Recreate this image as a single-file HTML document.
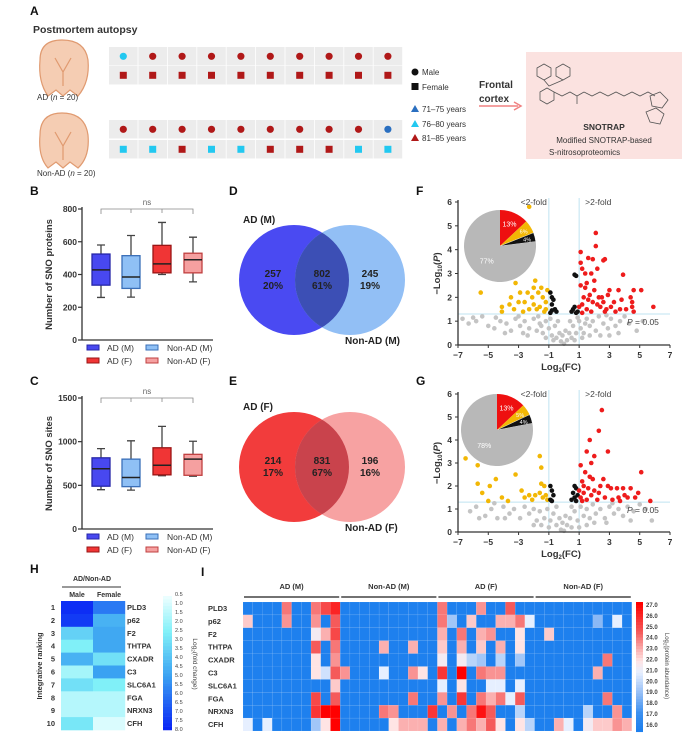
<!DOCTYPE html>
<html><head><meta charset="utf-8">
<style>
html,body{margin:0;padding:0;background:#fff;}
svg{display:block;font-family:"Liberation Sans",Arial,sans-serif;}
.pl{font-size:12px;font-weight:bold;fill:#111;}
.tk{font-size:8.5px;font-weight:bold;fill:#333;}
.sm{font-size:8px;fill:#333;}
</style></head>
<body>
<svg id="fig" width="695" height="741" viewBox="0 0 695 741" xmlns="http://www.w3.org/2000/svg">
<!-- Panel A static -->
<g>
<text x="30" y="15" class="pl">A</text>
<text x="33" y="33" style="font-size:10.5px;font-weight:bold;fill:#333">Postmortem autopsy</text>
<g fill="#f5cdb3" stroke="#e09a70" stroke-width="1.2">
<path d="M40 60 Q40 40 62 40 Q85 40 88 60 Q90 82 78 96 L70 90 L63 96 L56 90 L48 96 Q38 82 40 60Z"/>
<path d="M55 58 L63 72 L71 58 M63 72 L63 86" fill="none"/>
</g>
<text x="37" y="100" class="sm">AD (<tspan font-style="italic">n</tspan> = 20)</text>
<g fill="#f5cdb3" stroke="#e09a70" stroke-width="1.2">
<path d="M40 135 Q40 113 62 113 Q85 113 88 135 Q90 157 78 168 L70 162 L63 168 L56 162 L48 168 Q38 157 40 135Z"/>
<path d="M55 132 L63 146 L71 132 M63 146 L63 160" fill="none"/>
</g>
<text x="37" y="176" class="sm">Non-AD (<tspan font-style="italic">n</tspan> = 20)</text>
<g id="samples"></g>
<g>
<circle cx="415" cy="72" r="3.5" fill="#111"/><text x="422" y="75" class="sm">Male</text>
<rect x="411.5" y="83" width="7" height="7" fill="#111"/><text x="422" y="90" class="sm">Female</text>
<path d="M411 112 L415 105 L419 112Z" fill="#2a6fc0"/><text x="422" y="112" class="sm">71–75 years</text>
<path d="M411 127 L415 120 L419 127Z" fill="#22c8f0"/><text x="422" y="127" class="sm">76–80 years</text>
<path d="M411 141 L415 134 L419 141Z" fill="#b01818"/><text x="422" y="141" class="sm">81–85 years</text>
</g>
<text x="479" y="88" style="font-size:10px;font-weight:bold;fill:#333"><tspan x="479">Frontal</tspan><tspan x="479" dy="14">cortex</tspan></text>
<g><line x1="479" y1="106" x2="518" y2="106" stroke="#f08080" stroke-width="1.5"/><path d="M514 102 L521 106 L514 110" fill="none" stroke="#f08080" stroke-width="1.5"/></g>
<rect x="526" y="52" width="156" height="107" fill="#fbe2e0"/>
<g stroke="#555" stroke-width="0.8" fill="none">
<polygon points="537,68 544,64 551,68 551,76 544,80 537,76"/>
<polygon points="556,68 563,64 570,68 570,76 563,80 556,76"/>
<polygon points="540,92 547,88 554,92 554,100 547,104 540,100"/>
<path d="M544 80 L549 86 L563 80 M554 92 L562 96 L570 92 L577 96 L584 92 M577 96 L577 104 M584 92 L592 96 L600 92 L608 96 L616 92 L624 96 L632 92 L640 96 L648 92 L655 96"/>
<polygon points="650,96 660,92 668,100 662,108 652,106"/>
<polygon points="646,112 656,108 664,114 660,124 650,122"/>
</g>
<text x="604" y="130" text-anchor="middle" style="font-size:8.5px;font-weight:bold;fill:#333">SNOTRAP</text>
<text x="604" y="143" text-anchor="middle" class="sm">Modified SNOTRAP-based</text>
<text x="549" y="155" class="sm">S-nitrosoproteomics</text>
</g>

<text x="30" y="195" class="pl">B</text>
<text x="30" y="385" class="pl">C</text>
<text x="229" y="195" class="pl">D</text>
<text x="229" y="385" class="pl">E</text>
<text x="416" y="195" class="pl">F</text>
<text x="416" y="385" class="pl">G</text>
<text x="30" y="573" class="pl">H</text>
<text x="201" y="576" class="pl">I</text>

<g id="boxB"></g>
<g id="boxC"></g>
<g id="vennD"></g>
<g id="vennE"></g>
<g id="volF"></g>
<g id="volG"></g>
<g id="heatH"></g>
<g id="heatI"></g>
</svg>
<script>
// ---------- DATA ----------
const adMaleAge = ['76','81','81','81','81','81','81','81','81','81'];
const adFemaleAge = ['81','81','81','81','81','81','81','81','81','81'];
const nonMaleAge = ['81','81','81','81','81','81','81','81','81','71'];
const nonFemaleAge = ['76','76','81','76','76','81','81','81','76','76'];

const boxGroups = ['AD (M)','Non-AD (M)','AD (F)','Non-AD (F)'];
const protMin = [260,262,400,355];
const protQ1 = [335,315,410,410];
const protMed = [428,385,465,490];
const protQ3 = [525,515,578,530];
const protMax = [580,638,718,628];
const protTicks = [0,200,400,600,800];
const siteMin = [450,445,610,605];
const siteQ1 = [490,485,620,615];
const siteMed = [690,590,730,800];
const siteQ3 = [815,800,930,855];
const siteMax = [920,1010,1175,1005];
const siteTicks = [0,500,1000,1500];

const vennMaleCounts = ['257','802','245'];
const vennMalePct = ['20%','61%','19%'];
const vennFemaleCounts = ['214','831','196'];
const vennFemalePct = ['17%','67%','16%'];

const volXTicks = [-7,-5,-3,-1,1,3,5,7];
const volYTicks = [0,1,2,3,4,5,6];
const pieFPct = [13,6,4,77];
const pieGPct = [13,5,4,78];
const fRed = [[2.1,4.7],[2.1,4.15],[1.9,3.6],[2.6,3.55],[2.7,3.6],[1.1,3.9],[1.6,3.65],[1.1,3.45],[1.2,3.2],[3.9,2.95],[1.4,3.0],[2.2,3.2],[4.6,2.3],[5.1,2.3],[4.4,2.0],[3.6,2.3],[3.0,2.3],[2.9,2.1],[5.9,1.6],[4.5,1.6],[4.6,1.4],[3.3,1.8],[3.7,1.5],[2.5,2.0],[2.0,2.3],[1.7,2.1],[1.3,2.0],[1.2,1.7],[1.5,1.5],[1.9,1.8],[2.4,1.6],[2.8,1.5],[1.1,2.5],[1.4,2.4],[1.6,1.9],[2.2,1.7],[1.8,1.4],[2.6,1.8],[3.1,1.6],[1.2,1.35],[1.5,2.6],[2.0,2.7],[1.8,3.0],[2.3,2.0],[2.7,1.4],[3.4,1.4],[4.1,1.5],[4.5,1.8],[3.8,1.9],[1.0,1.6]];
const fYellow = [[-2.3,5.8],[-5.5,2.2],[-3.2,2.6],[-4.1,1.6],[-4.1,1.4],[-3.5,2.0],[-3.6,1.7],[-3.0,1.8],[-2.9,2.2],[-2.6,1.8],[-2.4,2.2],[-2.3,1.5],[-1.9,2.7],[-2.0,2.4],[-1.7,2.2],[-1.5,2.4],[-1.4,2.0],[-1.2,1.8],[-1.6,1.6],[-1.3,1.4],[-2.0,1.7],[-2.7,1.4],[-3.3,1.5],[-2.1,2.0],[-1.8,1.5],[-1.1,2.3],[-1.2,1.5]];
const fBlack = [[0.7,2.95],[0.8,2.9],[-0.9,2.2],[-0.8,2.0],[-0.7,1.9],[-0.8,1.7],[-0.6,1.5],[-0.8,1.45],[-0.5,1.4],[0.6,1.5],[0.7,1.6],[0.9,1.4],[0.8,1.35],[0.5,1.4],[-0.9,1.35]];
const fGray = [[-6.7,1.1],[-6.3,0.9],[-5.8,1.0],[-5.4,1.2],[-5.0,0.8],[-4.6,0.7],[-4.2,1.0],[-3.8,0.9],[-3.5,0.6],[-3.2,1.1],[-2.9,0.8],[-2.6,1.0],[-2.3,0.7],[-2.0,1.1],[-1.8,0.6],[-1.6,0.9],[-1.4,0.5],[-1.2,1.0],[-1.0,0.7],[-0.8,0.4],[-0.6,0.8],[-0.5,0.3],[-0.3,0.5],[-0.2,0.15],[0,0.05],[0.2,0.2],[0.35,0.5],[0.5,0.3],[0.6,0.8],[0.8,0.5],[1.0,1.0],[1.1,0.7],[1.3,0.5],[1.5,1.1],[1.7,0.8],[1.9,1.0],[2.1,0.6],[2.3,1.2],[2.6,0.9],[2.9,0.7],[3.1,1.1],[3.4,0.8],[3.7,1.0],[3.6,0.5],[4.0,1.2],[4.3,0.9],[2.4,0.4],[-2.4,0.4],[-3.0,1.2],[-1.2,0.3],[1.2,0.3],[-0.9,1.1],[0.9,1.15],[-4.5,1.15],[5.2,1.0],[-6.0,1.15],[-0.4,1.0],[0.4,1.0],[-1.7,1.2],[1.7,0.4],[2.8,1.25],[-2.7,0.5],[-0.1,0.4],[0.1,0.6],[-0.7,0.2],[0.7,0.2],[-1.5,0.8],[1.4,0.9],[3.0,0.4],[-3.9,0.5],[4.8,0.6]];
const gRed = [[2.5,5.3],[2.3,4.4],[1.7,4.0],[1.5,3.5],[2.9,3.5],[2.0,3.3],[1.8,3.0],[1.1,2.9],[1.4,2.6],[5.1,2.6],[2.6,2.3],[1.9,2.3],[1.2,2.2],[3.1,1.9],[3.5,1.9],[3.9,1.9],[4.4,1.9],[4.9,1.7],[4.7,1.5],[5.7,1.35],[4.2,1.5],[3.6,1.5],[2.3,1.7],[2.0,1.8],[1.6,1.9],[1.3,1.7],[1.1,1.5],[1.5,1.4],[2.7,1.5],[3.2,1.4],[1.8,1.6],[2.4,2.0],[1.3,2.0],[3.7,1.35],[1.7,2.4],[2.9,2.0],[4.0,1.6],[2.2,1.4],[1.0,1.8],[1.2,1.35]];
const gYellow = [[-6.5,3.2],[-5.7,2.9],[-5.7,2.1],[-4.9,2.0],[-4.5,2.3],[-3.2,2.5],[-5.4,1.7],[-4.1,1.5],[-5.0,1.35],[-3.7,1.35],[-2.8,1.8],[-2.6,1.5],[-1.6,3.3],[-1.5,2.8],[-1.5,2.1],[-1.3,2.0],[-1.6,1.7],[-1.4,1.5],[-2.1,1.4],[-1.9,1.6],[-1.2,1.6],[-1.1,1.4],[-2.3,1.6]];
const gBlack = [[-0.9,2.0],[-0.8,1.8],[-0.7,1.6],[-0.9,1.4],[-0.8,1.35],[0.7,2.0],[0.8,1.9],[0.6,1.7],[0.7,1.5],[0.9,1.6],[0.5,1.4],[0.8,1.35]];
const gGray = [[-6.2,0.9],[-5.8,1.1],[-5.2,0.7],[-4.8,1.0],[-4.4,0.6],[-4.0,1.1],[-3.6,0.8],[-3.3,1.0],[-2.9,0.6],[-2.6,1.1],[-2.3,0.8],[-2.0,1.0],[-1.8,0.5],[-1.6,0.9],[-1.3,0.6],[-1.1,1.0],[-0.9,0.5],[-0.7,0.8],[-0.5,0.3],[-0.3,0.6],[-0.2,0.1],[0,0.05],[0.2,0.3],[0.4,0.6],[0.5,0.2],[0.7,0.9],[0.9,0.5],[1.1,1.1],[1.3,0.7],[1.5,1.0],[1.7,0.6],[1.9,1.2],[2.1,0.8],[2.4,1.0],[2.7,0.6],[3.0,1.1],[3.3,0.8],[3.6,1.0],[3.9,0.7],[4.2,1.1],[4.6,0.9],[5.0,1.2],[5.4,1.0],[5.8,0.5],[2.0,0.4],[-2.0,0.3],[-3.9,0.6],[1.0,0.2],[-1.0,0.2],[-0.5,1.1],[0.5,1.1],[2.8,0.4],[-5.6,0.6],[4.4,0.5],[-4.6,1.25],[3.2,1.25],[-0.1,0.4],[0.1,0.7],[-1.5,0.3],[1.5,0.3]];

const hGenes = ['PLD3','p62','F2','THTPA','CXADR','C3','SLC6A1','FGA','NRXN3','CFH'];
const hMale = [7.8,7.5,3.5,2.5,4.5,1.8,3.0,1.5,1.5,2.8];
const hFemale = [6.0,4.5,4.8,4.8,3.0,5.0,2.5,1.5,1.5,0.8];
const hTicks = ['0.5','1.0','1.5','2.0','2.5','3.0','3.5','4.0','4.5','5.0','5.5','6.0','6.5','7.0','7.5','8.0'];
const iGroups = ['AD (M)','Non-AD (M)','AD (F)','Non-AD (F)'];
const iTicks = ['27.0','26.0','25.0','24.0','23.0','22.0','21.0','20.0','19.0','18.0','17.0','16.0'];
const iPLD3  = [16,16,16,16,24,16,16,24,25,26,16,16,16,16,16,16,16,16,16,16,24,16,16,16,23.5,16,16,24.5,16,16,16,16,16,16,16,16,16,16,16,16];
const iP62   = [22.5,16,16,16,23.5,16,16,23.5,16,24.5,16,16,16,16,16,16,16,16,16,16,24,19.5,16,22.5,16,16,23,23,24,21,16,16,16,16,16,16,19,16,21,16];
const iF2    = [16,16,16,16,16,16,16,21.5,23,25,16,16,16,16,16,16,16,16,16,16,23,16,24,16,23,23.5,16,16,22,16,16,22.5,16,16,16,16,16,16,16,16];
const iTHTPA = [16,16,16,16,16,16,16,24.5,16,24,16,16,16,16,23,16,16,23,16,16,22.5,16,23,16,22.5,16,23,16,22,16,16,16,16,16,16,16,16,16,16,16];
const iCXADR = [16,16,16,16,16,16,16,22,16,23.5,16,16,16,16,16,16,16,16,16,16,21.5,16,21.5,20,19.5,16,20,16,19.5,16,16,16,16,16,16,16,16,24,16,16];
const iC3    = [16,16,16,16,16,16,16,22,20.5,24.5,23.5,16,16,16,21,16,16,23.5,22,16,25.5,16,27,16,24,23.5,23.5,16,16,16,16,16,16,16,16,16,23,16,16,16];
const iSLC   = [16,16,16,16,16,16,16,16,16,22.5,16,16,16,16,16,16,16,16,16,16,21,16,22,16,16,21,21,16,21,16,16,16,16,16,16,16,16,16,16,16];
const iFGA   = [16,16,16,16,16,16,16,25,16,24.5,16,16,16,16,16,16,16,24,16,16,23.5,16,25.5,16,24,23,24,21,24.5,16,16,16,16,16,16,16,16,24,16,16];
const iNRXN3 = [16,16,16,16,16,16,16,25.5,27,27,16,16,16,16,24,23.5,16,16,16,25.5,16,23.5,16,24,26.5,24.5,16,16,20,16,16,16,16,16,16,20,16,16,23.5,16];
const iCFH   = [21,16,21,16,16,16,16,19.5,22,27,16,16,16,16,16,22,23,23,23,16,23,16,23,24,23,24.5,22,16,22,20,16,16,23,21,16,21.5,22.5,22.5,23.5,23];
const iRows = [iPLD3,iP62,iF2,iTHTPA,iCXADR,iC3,iSLC,iFGA,iNRXN3,iCFH];

// ---------- HELPERS ----------
const NS='http://www.w3.org/2000/svg';
function mk(tag,attrs,parent){const e=document.createElementNS(NS,tag);for(const k in attrs)e.setAttribute(k,attrs[k]);parent.appendChild(e);return e;}
function txt(s,attrs,parent){const e=mk('text',attrs,parent);e.textContent=s;return e;}
function lerpC(a,b,t){const pa=[1,3,5].map(i=>parseInt(a.substr(i,2),16)),pb=[1,3,5].map(i=>parseInt(b.substr(i,2),16));return 'rgb('+pa.map((v,i)=>Math.round(v+(pb[i]-v)*t)).join(',')+')';}
function ramp(stops,v){for(let i=0;i<stops.length-1;i++){if(v<=stops[i+1][0]){const t=(v-stops[i][0])/(stops[i+1][0]-stops[i][0]);return lerpC(stops[i][1],stops[i+1][1],Math.max(0,Math.min(1,t)));}}return stops[stops.length-1][1];}
const ageColor={'71':'#2a6fc0','76':'#22c8f0','81':'#b01818'};

// ---------- PANEL A GRID ----------
(function(){
  const g=document.getElementById('samples');
  const rows=[[adMaleAge,47,'c'],[adFemaleAge,66,'s'],[nonMaleAge,120,'c'],[nonFemaleAge,140,'s']];
  rows.forEach(([ages,y,shape])=>{
    ages.forEach((a,i)=>{
      const x=109+i*29.4;
      const bg=mk('rect',{x:x,y:y,width:28.6,height:18.5,fill:'#ececec'},g);
      
      
      let m;
      if(shape==='c') m=mk('circle',{cx:x+14.3,cy:y+9.3,r:3.6,fill:ageColor[a]},g);
      else m=mk('rect',{x:x+10.8,y:y+5.8,width:7,height:7,fill:ageColor[a]},g);
      
      
    });
  });
})();

// ---------- BOX PLOTS ----------
const boxFill=['#4848f0','#8fc0f5','#f03535','#f5a0a0'];
const boxStroke=['#2626a8','#3a6fb8','#9a1515','#c04040'];
function boxPlot(id,mins,q1s,meds,q3s,maxs,ticks,ymax,y0,yTop,legY,ylabel){
  const g=document.getElementById(id);
  const sy=v=>y0-(v/ymax)*(y0-yTop);
  const cx=[101,131,162,193];
  mk('line',{x1:82,y1:yTop-2,x2:82,y2:y0,stroke:'#333','stroke-width':1.3},g);
  mk('line',{x1:82,y1:y0,x2:213,y2:y0,stroke:'#333','stroke-width':1.3},g);
  ticks.forEach(t=>{
    mk('line',{x1:78,y1:sy(t),x2:82,y2:sy(t),stroke:'#333','stroke-width':1.2},g);
    const l=txt(String(t),{x:77,y:sy(t)+3,'text-anchor':'end',class:'tk'},g);
    
    
  });
  const yl=txt(ylabel,{x:0,y:0,transform:`translate(52,${(y0+yTop)/2}) rotate(-90)`,'text-anchor':'middle',style:'font-size:9.5px;font-weight:bold;fill:#333'},g);
  
  
  // ns bracket
  mk('path',{d:`M${cx[0]} ${yTop+5} L${cx[0]} ${yTop} L${cx[3]} ${yTop} L${cx[3]} ${yTop+5} M${cx[1]} ${yTop} L${cx[1]} ${yTop+4} M${cx[2]} ${yTop} L${cx[2]} ${yTop+4}`,fill:'none',stroke:'#888','stroke-width':0.8},g);
  const ns=txt('ns',{x:147,y:yTop-4,'text-anchor':'middle',style:'font-size:8px;fill:#666'},g);
  
  
  cx.forEach((c,i)=>{
    const w=mk('path',{d:`M${c} ${sy(mins[i])} L${c} ${sy(q1s[i])} M${c} ${sy(q3s[i])} L${c} ${sy(maxs[i])} M${c-4} ${sy(mins[i])} L${c+4} ${sy(mins[i])} M${c-4} ${sy(maxs[i])} L${c+4} ${sy(maxs[i])}`,stroke:'#444','stroke-width':1.3,fill:'none'},g);
    
    
    const b=mk('rect',{x:c-9,y:sy(q3s[i]),width:18,height:sy(q1s[i])-sy(q3s[i]),fill:boxFill[i],stroke:boxStroke[i],'stroke-width':1.3},g);
    
    
    const m=mk('line',{x1:c-9,x2:c+9,y1:sy(meds[i]),y2:sy(meds[i]),stroke:'#222','stroke-width':1.5},g);
    
    
  });
  const lx=[[87,107],[146,167],[87,107],[146,167]];
  boxGroups.forEach((n,i)=>{
    const yy=legY+(i>1?13:0);
    const s=mk('rect',{x:lx[i][0],y:yy-3,width:12,height:5,fill:boxFill[i],stroke:boxStroke[i],'stroke-width':1},g);
    
    
    const t=txt(n,{x:lx[i][1],y:yy+3,style:'font-size:8.5px;fill:#333'},g);
    
    
  });
}
boxPlot('boxB',protMin,protQ1,protMed,protQ3,protMax,protTicks,800,340,209,348,'Number of SNO proteins');
boxPlot('boxC',siteMin,siteQ1,siteMed,siteQ3,siteMax,siteTicks,1500,529,398,537,'Number of SNO sites');

// ---------- VENN ----------
function venn(id,cy,cL,cR,cO,counts,pcts,lt,rt){
  const g=document.getElementById(id);
  const r=55,xl=294,xr=350;
  const c1=mk('circle',{cx:xl,cy:cy,r:r,fill:cL},g);
  
  
  const c2=mk('circle',{cx:xr,cy:cy,r:r,fill:cR},g);
  
  
  const cp=mk('clipPath',{id:id+'clip'},g);mk('circle',{cx:xl,cy:cy,r:r},cp);
  const ov=mk('circle',{cx:xr,cy:cy,r:r,fill:cO,'clip-path':`url(#${id}clip)`},g);
  
  
  [273,322,370].forEach((x,i)=>{
    const t=txt('',{x:x,y:cy-3,'text-anchor':'middle',style:'font-size:10px;font-weight:bold;fill:#222'},g);
    mk('tspan',{x:x},t).textContent=counts[i];
    mk('tspan',{x:x,dy:12},t).textContent=pcts[i];
    
    
  });
  const a=txt(lt,{x:243,y:cy-57,style:'font-size:10px;font-weight:bold;fill:#222'},g);
  
  
  const b=txt(rt,{x:345,y:cy+64,style:'font-size:10px;font-weight:bold;fill:#222'},g);
  
  
}
venn('vennD',280,'#4a4af2','#92bff5','#3c4fb5',vennMaleCounts,vennMalePct,'AD (M)','Non-AD (M)');
venn('vennE',467,'#f23c3c','#f7a2a2','#c9434c',vennFemaleCounts,vennFemalePct,'AD (F)','Non-AD (F)');

// ---------- VOLCANO ----------
function volcano(id,y0,y6,red,yellow,black,gray,pie,pcx,pcy){
  const g=document.getElementById(id);
  const sx=v=>458+(v+7)/14*212;
  const sy=v=>y0-v/6*(y0-y6);
  // threshold lines
  mk('line',{x1:sx(-1),x2:sx(-1),y1:y6-4,y2:y0,stroke:'#bfe3f0','stroke-width':1},g);
  mk('line',{x1:sx(1),x2:sx(1),y1:y6-4,y2:y0,stroke:'#bfe3f0','stroke-width':1},g);
  mk('line',{x1:458,x2:670,y1:sy(1.3),y2:sy(1.3),stroke:'#bfe3f0','stroke-width':1},g);
  const groups=[[gray,'#c4c4c4','gray'],[yellow,'#f2b705','down'],[black,'#111','ns'],[red,'#ee1c1c','up']];
  groups.forEach(([pts,col,nm])=>{
    pts.forEach(p=>{
      const c=mk('circle',{cx:sx(p[0]),cy:sy(p[1]),r:2.3,fill:col},g);
      
      
    });
  });
  mk('line',{x1:458,y1:y6-2,x2:458,y2:y0,stroke:'#333','stroke-width':1.3},g);
  mk('line',{x1:458,y1:y0,x2:670,y2:y0,stroke:'#333','stroke-width':1.3},g);
  volYTicks.forEach(t=>{
    mk('line',{x1:455,x2:458,y1:sy(t),y2:sy(t),stroke:'#333'},g);
    const l=txt(String(t),{x:452,y:sy(t)+3,'text-anchor':'end',class:'tk'},g);
    
    
  });
  volXTicks.forEach(t=>{
    mk('line',{x1:sx(t),x2:sx(t),y1:y0,y2:y0+3,stroke:'#333'},g);
    const l=txt(t<0?'−'+(-t):String(t),{x:sx(t),y:y0+13,'text-anchor':'middle',class:'tk'},g);
    
    
  });
  const xl=txt('',{x:561,y:y0+25,'text-anchor':'middle',style:'font-size:9.5px;font-weight:bold;fill:#333'},g);
  xl.innerHTML='Log<tspan font-size="6" dy="2">2</tspan><tspan dy="-2">(FC)</tspan>';
  
  
  const yl=txt('',{transform:`translate(440,${(y0+y6)/2}) rotate(-90)`,'text-anchor':'middle',style:'font-size:9.5px;font-weight:bold;fill:#333'},g);
  yl.innerHTML='−Log<tspan font-size="6" dy="2">10</tspan><tspan dy="-2">(</tspan><tspan font-style="italic">P</tspan>)';
  
  
  const a=txt('<2-fold',{x:sx(-1)-2,y:y6+3,'text-anchor':'end',style:'font-size:8.5px;fill:#444'},g);
  
  
  const b=txt('>2-fold',{x:sx(1)+6,y:y6+3,style:'font-size:8.5px;fill:#444'},g);
  
  
  const pl=txt('',{x:627,y:sy(1.3)+11,style:'font-size:8.5px;fill:#444'},g);
  pl.innerHTML='<tspan font-style="italic">P</tspan> = 0.05';
  
  
  // pie
  const pc=['#ee1010','#f2b705','#111','#b8b8b8'];
  const pr=36;let ang=-Math.PI/2;const tot=pie.reduce((s,v)=>s+v,0);
  pie.forEach((v,i)=>{
    const a2=ang+v/tot*2*Math.PI;
    const large=(a2-ang)>Math.PI?1:0;
    const d=`M${pcx} ${pcy} L${pcx+pr*Math.cos(ang)} ${pcy+pr*Math.sin(ang)} A${pr} ${pr} 0 ${large} 1 ${pcx+pr*Math.cos(a2)} ${pcy+pr*Math.sin(a2)}Z`;
    const s=mk('path',{d:d,fill:pc[i],stroke:i===2?'#fff':'none','stroke-width':0.4},g);
    
    
    const mid=(ang+a2)/2;const rr=i===3?20:(i===0?24:28);
    const t=txt(v+'%',{x:pcx+rr*Math.cos(mid),y:pcy+rr*Math.sin(mid)+2.5,'text-anchor':'middle',style:`font-size:${i===0||i===3?7:5.5}px;fill:#fff`},g);
    
    
    ang=a2;
  });
}
volcano('volF',345,202,fRed,fYellow,fBlack,fGray,pieFPct,500,246);
volcano('volG',532,394,gRed,gYellow,gBlack,gGray,pieGPct,497,430);

// ---------- HEATMAP H ----------
(function(){
  const g=document.getElementById('heatH');
  const stops=[[0.5,'#eafeff'],[2.5,'#80f0f8'],[5,'#3aa2f2'],[8,'#0a26f5']];
  const rh=12.9,top=601;
  const hdr=txt('AD/Non-AD',{x:92,y:581,'text-anchor':'middle',style:'font-size:7px;font-weight:bold;fill:#333'},g);
  
  
  mk('line',{x1:62,x2:121,y1:587,y2:587,stroke:'#333','stroke-width':1},g);
  txt('Male',{x:77,y:597,'text-anchor':'middle',style:'font-size:7px;font-weight:bold;fill:#333'},g);
  txt('Female',{x:109,y:597,'text-anchor':'middle',style:'font-size:7px;font-weight:bold;fill:#333'},g);
  hGenes.forEach((gn,i)=>{
    const y=top+i*rh;
    [[hMale,61],[hFemale,93]].forEach(([arr,x])=>{
      const c=mk('rect',{x:x,y:y,width:32.2,height:rh+0.3,fill:ramp(stops,arr[i])},g);
      
      
    });
    const n=txt(String(i+1),{x:55,y:y+9,'text-anchor':'end',style:'font-size:7.5px;font-weight:bold;fill:#333'},g);
    
    
    const l=txt(gn,{x:127,y:y+9,style:'font-size:7.5px;font-weight:bold;fill:#333'},g);
    
    
  });
  const yl=txt('Integrative ranking',{transform:'translate(42,666) rotate(-90)','text-anchor':'middle',style:'font-size:7.5px;font-weight:bold;fill:#333'},g);
  
  
  const cb=mk('g',{},g);
  for(let k=0;k<40;k++){const v=0.5+k*7.5/39;mk('rect',{x:163,y:596+k*3.35,width:9,height:3.6,fill:ramp(stops,v)},cb);}
  
  
  hTicks.forEach((t,i)=>{
    const l=txt(t,{x:175,y:594+i*9+2,style:'font-size:5.5px;fill:#444'},g);
    
    
  });
  const cl=txt('',{transform:'translate(193,664) rotate(90)','text-anchor':'middle',style:'font-size:6.5px;fill:#444'},g);
  cl.innerHTML='Log<tspan font-size="4.5" dy="1.5">2</tspan><tspan dy="-1.5">(fold change)</tspan>';
  
  
})();

// ---------- HEATMAP I ----------
(function(){
  const g=document.getElementById('heatI');
  const stops=[[16,'#1e80ee'],[17.5,'#3a8ff0'],[19,'#8ab8f5'],[21,'#e6efff'],[22,'#ffe4e4'],[23,'#fbb0b0'],[24.5,'#f55a5a'],[27,'#ff0000']];
  const x0=243,cw=9.72,top=602,rh=12.9;
  iRows.forEach((row,r)=>{
    row.forEach((v,c)=>{
      const e=mk('rect',{x:x0+c*cw,y:top+r*rh,width:cw,height:rh,fill:ramp(stops,v),stroke:'rgba(255,255,255,0.15)','stroke-width':0.4},g);
      
      
    });
    const l=txt(hGenes[r],{x:208,y:top+r*rh+9,style:'font-size:7.5px;font-weight:bold;fill:#333'},g);
    
    
  });
  iGroups.forEach((n,k)=>{
    const xa=x0+k*10*cw+1,xb=x0+(k+1)*10*cw-1;
    mk('line',{x1:xa,x2:xb,y1:597,y2:597,stroke:'#444','stroke-width':1.5},g);
    const t=txt(n,{x:(xa+xb)/2,y:589,'text-anchor':'middle',style:'font-size:7.5px;font-weight:bold;fill:#333'},g);
    
    
  });
  const cb=mk('g',{},g);
  for(let k=0;k<44;k++){const v=27-k*11/43;mk('rect',{x:636,y:602+k*2.95,width:7,height:3.2,fill:ramp(stops,v)},cb);}
  
  
  iTicks.forEach((t,i)=>{
    const l=txt(t,{x:646,y:607+i*10.9,style:'font-size:6px;font-weight:bold;fill:#444'},g);
    
    
  });
  const cl=txt('',{transform:'translate(665,666) rotate(90)','text-anchor':'middle',style:'font-size:6px;fill:#444'},g);
  cl.innerHTML='Log<tspan font-size="4.5" dy="1.5">2</tspan><tspan dy="-1.5">(protein abundance)</tspan>';
  
  
})();
</script>
</body></html>
